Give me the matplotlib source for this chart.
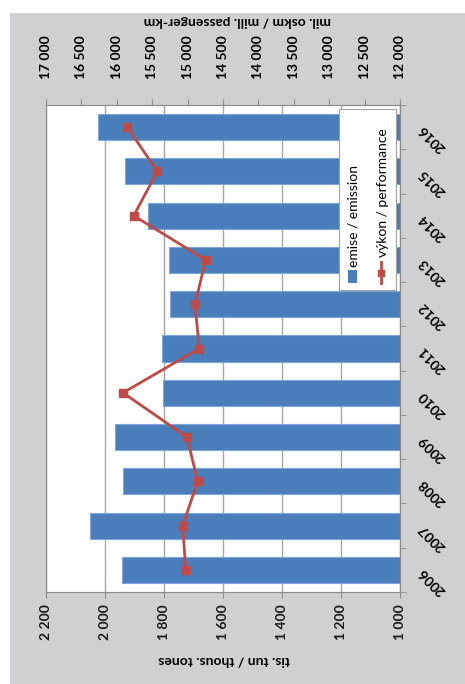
import numpy as np
from matplotlib import pyplot as plt
from matplotlib.patches import Rectangle
from matplotlib.lines import Line2D

# data (chart is drawn rotated 90 degrees, as in the source picture)
years = ["2006", "2007", "2008", "2009", "2010", "2011",
         "2012", "2013", "2014", "2015", "2016"]
emissions = [1943, 2051, 1939, 1966, 1804, 1808, 1780, 1783, 1853, 1932, 2024]
performance = [15026, 15068, 14857, 15008, 15910, 14834,
               14895, 14744, 15759, 15426, 15849]
emission_ticks = [1000, 1200, 1400, 1600, 1800, 2000, 2200]
emission_labels = ["1 000", "1 200", "1 400", "1 600", "1 800", "2 000", "2 200"]
performance_ticks = [12000, 12500, 13000, 13500, 14000, 14500,
                     15000, 15500, 16000, 16500, 17000]
performance_labels = ["12 000", "12 500", "13 000", "13 500", "14 000", "14 500",
                      "15 000", "15 500", "16 000", "16 500", "17 000"]

BLUE = "#4a7ebb"
RED = "#be4b48"
BG = "#d0d0d2"
AXC = "#8c8c8c"
W, H = 465, 684


def fx(px):
    return px / W


def fy(py):
    return 1 - py / H


plt.rcParams["font.family"] = ["Lato", "DejaVu Sans"]

fig = plt.figure(figsize=(W / 100, H / 100), dpi=100, facecolor="white")
fig.patches.append(Rectangle((fx(10), 0), 1 - fx(10), fy(13), transform=fig.transFigure,
                             facecolor=BG, edgecolor="none", zorder=-1))

ax = fig.add_axes([fx(45.7), fy(592), fx(400.3) - fx(45.7), fy(105) - fy(592)])
y = np.arange(len(years))
ax.barh(y, np.array(emissions) - 1000, left=1000, height=0.59, color=BLUE,
        edgecolor="#7ea6d6", linewidth=0.8, zorder=2)
ax.set_xlim(2200, 1000)
ax.set_ylim(-0.5, len(years) - 0.5)
ax.set_xticks(emission_ticks)
ax.set_xticklabels(emission_labels, rotation=90, fontweight="bold", fontsize=10)
ax.grid(axis="x", color="#a6a6a6", lw=1)
ax.set_axisbelow(True)

ax.yaxis.tick_right()
ax.set_yticks(y)
ax.set_yticklabels(years, fontweight="bold", fontsize=10)
ax.set_yticks(np.arange(-0.5, len(years)), minor=True)
ax.tick_params(axis="y", which="major", length=0, pad=15)
ax.tick_params(axis="y", which="minor", length=4, direction="out", color=AXC)
ax.tick_params(axis="x", length=4, color=AXC, pad=5, colors="#1a1a1a")
for lbl in ax.get_yticklabels():
    lbl.set_rotation(135)
    lbl.set_rotation_mode("anchor")
    lbl.set_ha("right")
    lbl.set_va("center")
for s in ax.spines.values():
    s.set_color(AXC)

ax2 = ax.twiny()
ax2.plot(performance, y, color=RED, lw=2, marker="s", ms=5.5, zorder=3)
ax2.set_xlim(17000, 12000)
ax2.set_xticks(performance_ticks)
ax2.set_xticklabels(performance_labels, rotation=90, fontweight="bold", fontsize=10)
ax2.tick_params(axis="x", length=4, color=AXC, pad=15)
for s in ax2.spines.values():
    s.set_color(AXC)

# axis titles
fig.text(fx(224), fy(661), "tis. tun / thous. tones", rotation=180, ha="center",
         va="center", fontweight="bold", fontsize=10)
fig.text(fx(237), fy(21), "mil. oskm / mill. passenger-km", rotation=180, ha="center",
         va="center", fontweight="bold", fontsize=10)

# legend, drawn by hand because it is rotated
fig.patches.append(Rectangle((fx(339), fy(290)), fx(395.7) - fx(339), fy(109.3) - fy(290),
                             transform=fig.transFigure, facecolor="white",
                             edgecolor="#a0a0a0", lw=0.8, zorder=4))
fig.patches.append(Rectangle((fx(348), fy(283)), fx(357) - fx(348), fy(270) - fy(283),
                             transform=fig.transFigure, facecolor=BLUE, zorder=5))
fig.lines.append(Line2D([fx(380.7), fx(380.7)], [fy(283), fy(262)], transform=fig.transFigure,
                        color=RED, lw=2, zorder=5))
fig.lines.append(Line2D([fx(380.7)], [fy(272.5)], transform=fig.transFigure, color=RED,
                        marker="s", ms=5, zorder=6))
fig.text(fx(353), fy(267), "emise / emission", rotation=90, ha="center", va="bottom",
         fontsize=10, zorder=6)
fig.text(fx(383), fy(257), "výkon / performance", rotation=90, ha="center", va="bottom",
         fontsize=10, zorder=6)

fig.savefig("out.png", dpi=100)
